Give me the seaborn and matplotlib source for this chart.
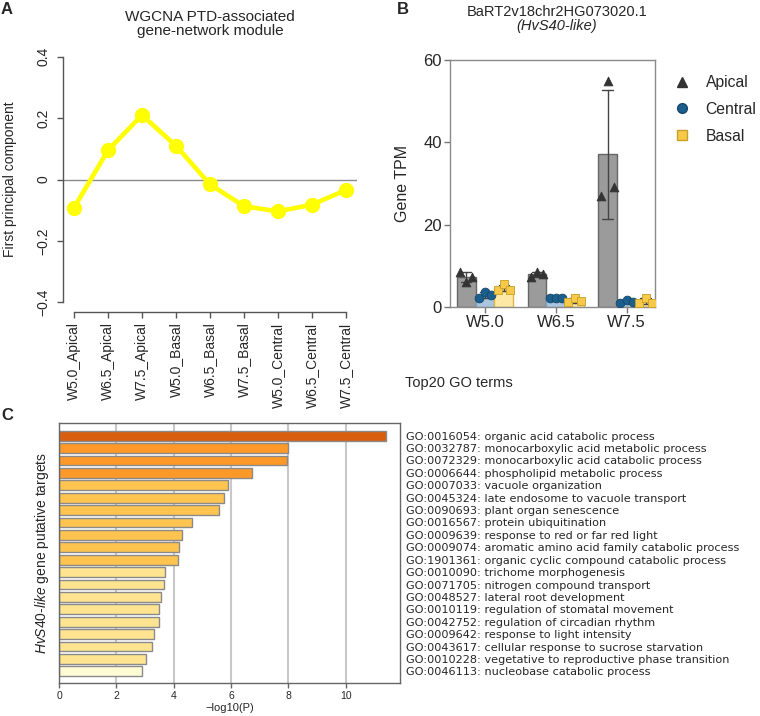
import matplotlib
matplotlib.use("Agg")
import matplotlib.pyplot as plt
import seaborn as sns
import pandas as pd
from matplotlib.lines import Line2D

# --- panel A: module eigengene per sample
samples = ["W5.0_Apical", "W6.5_Apical", "W7.5_Apical", "W5.0_Basal", "W6.5_Basal",
           "W7.5_Basal", "W5.0_Central", "W6.5_Central", "W7.5_Central"]
eigengene = [-0.093, 0.095, 0.21, 0.11, -0.016, -0.087, -0.104, -0.082, -0.034]

# --- panel B: TPM replicates (stage x 3 reps)
stages = ["W5.0", "W6.5", "W7.5"]
zones = ["Apical", "Central", "Basal"]
tpm_apical = [[8.5, 6.0, 7.2], [7.2, 8.6, 7.9], [27.0, 55.0, 29.2]]
tpm_central = [[2.2, 3.6, 3.0], [2.2, 2.3, 2.2], [1.0, 1.8, 1.2]]
tpm_basal = [[4.2, 5.5, 4.2], [1.2, 2.3, 1.4], [1.0, 2.2, 1.0]]

# --- panel C: top20 GO terms
go_terms = [
    "GO:0016054: organic acid catabolic process",
    "GO:0032787: monocarboxylic acid metabolic process",
    "GO:0072329: monocarboxylic acid catabolic process",
    "GO:0006644: phospholipid metabolic process",
    "GO:0007033: vacuole organization",
    "GO:0045324: late endosome to vacuole transport",
    "GO:0090693: plant organ senescence",
    "GO:0016567: protein ubiquitination",
    "GO:0009639: response to red or far red light",
    "GO:0009074: aromatic amino acid family catabolic process",
    "GO:1901361: organic cyclic compound catabolic process",
    "GO:0010090: trichome morphogenesis",
    "GO:0071705: nitrogen compound transport",
    "GO:0048527: lateral root development",
    "GO:0010119: regulation of stomatal movement",
    "GO:0042752: regulation of circadian rhythm",
    "GO:0009642: response to light intensity",
    "GO:0043617: cellular response to sucrose starvation",
    "GO:0010228: vegetative to reproductive phase transition",
    "GO:0046113: nucleobase catabolic process",
]
go_logp = [11.4, 8.0, 7.94, 6.75, 5.91, 5.75, 5.59, 4.65, 4.30, 4.20,
           4.14, 3.71, 3.68, 3.56, 3.49, 3.48, 3.33, 3.26, 3.02, 2.91]

# colours by p-value bin
go_colors = (["#d95f0e"] + ["#fe9929"] * 3 + ["#fec44f"] * 7
             + ["#fee391"] * 8 + ["#fffbd4"])

sns.set_style("white")
plt.rcParams['font.family'] = ['Liberation Sans', 'DejaVu Sans']
plt.rcParams['mathtext.fontset'] = 'custom'
plt.rcParams['mathtext.it'] = 'Liberation Sans:italic'
plt.rcParams['mathtext.rm'] = 'Liberation Sans'

W, H = 760, 716
fig = plt.figure(figsize=(W / 100, H / 100), dpi=100)


def box(l, t, r, b):
    return [l / W, 1 - b / H, (r - l) / W, (b - t) / H]


# ---------------- A
axA = fig.add_axes(box(63, 47, 357, 312))
axA.axhline(0, color="#8a8a8a", lw=1, zorder=0)
sns.pointplot(x=samples, y=eigengene, color="#ffff00", markers="o", errorbar=None,
              markersize=8.5, linewidth=3.3, ax=axA)
axA.set_xlim(-0.32, 8.32)
axA.set_ylim(-0.432, 0.432)
axA.set_yticks([-0.4, -0.2, 0, 0.2, 0.4])
axA.set_yticklabels(["\u22120.4", "\u22120.2", "0", "0.2", "0.4"])
for s in ["top", "right"]:
    axA.spines[s].set_visible(False)
axA.spines["left"].set_bounds(-0.4, 0.4)
axA.spines["bottom"].set_bounds(0, 8)
for s in ["left", "bottom"]:
    axA.spines[s].set_color("#555555")
    axA.spines[s].set_linewidth(1)
axA.tick_params(axis="x", labelrotation=90, length=4.5, width=1, color="#555555",
                pad=3, labelsize=10, bottom=True)
axA.tick_params(axis="y", labelrotation=90, length=4, width=1, color="#555555",
                pad=5, labelsize=10, left=True)
for lab in axA.get_yticklabels():
    lab.set_va("center")
axA.set_xlabel("")
axA.set_ylabel("First principal component", fontsize=10)
axA.yaxis.set_label_coords(-0.155, 0.5)
fig.text(210 / W, 1 - 17 / H, "WGCNA PTD-associated", ha="center", va="center", fontsize=11)
fig.text(210 / W, 1 - 31 / H, "gene-network module", ha="center", va="center", fontsize=11)

# ---------------- B
rows = []
for zone, reps in zip(zones, [tpm_apical, tpm_central, tpm_basal]):
    for stage, vals in zip(stages, reps):
        for i, v in enumerate(vals):
            rows.append((stage, zone, f"{zone}{i}", v))
tpm = pd.DataFrame(rows, columns=["stage", "zone", "slot", "tpm"])
slots = [f"{z}{i}" for z in zones for i in range(3)]

bar_pal = {"Apical": "#9b9b9b", "Central": "#a9c6de", "Basal": "#fde8a6"}
bar_edge = {"Apical": "#666666", "Central": "#7fa3c3", "Basal": "#dcb54e"}
pt_pal = {"Apical": "#333333", "Central": "#1d5f8c", "Basal": "#f7c948"}
pt_edge = {"Apical": "#333333", "Central": "#14476b", "Basal": "#c9a027"}
pt_mark = {"Apical": "^", "Central": "o", "Basal": "s"}
slot_pal = {s: pt_pal[s[:-1]] for s in slots}

axB = fig.add_axes(box(450, 60, 655, 307))
sns.barplot(data=tpm, x="stage", y="tpm", hue="zone", order=stages, hue_order=zones,
            palette=bar_pal, saturation=1, errorbar="sd", capsize=0.45, width=0.8,
            err_kws={"color": "#444444", "linewidth": 1}, linewidth=1,
            legend=False, ax=axB)
for cont, zone in zip(axB.containers, zones):
    for p in cont:
        p.set_edgecolor(bar_edge[zone])
for zone in zones:
    sns.stripplot(data=tpm[tpm["zone"] == zone], x="stage", y="tpm", hue="slot",
                  order=stages, hue_order=slots, dodge=True, jitter=False, palette=slot_pal,
                  marker=pt_mark[zone], size=6.3, edgecolor=pt_edge[zone], linewidth=0.6,
                  legend=False, ax=axB, zorder=4)
axB.set_ylim(0, 60)
axB.set_xlim(-0.495, 2.40)
axB.set_yticks([0, 20, 40, 60])
for s in axB.spines.values():
    s.set_color("#8a8a8a")
    s.set_linewidth(1)
axB.tick_params(axis="both", length=4, width=1, color="#777777", pad=2, labelsize=12,
                bottom=True, left=True)
axB.set_xlabel("")
axB.set_ylabel("Gene TPM", fontsize=11.5)
axB.yaxis.set_label_coords(-0.195, 0.5)
fig.text(557 / W, 1 - 12 / H, "BaRT2v18chr2HG073020.1", ha="center", va="center", fontsize=10.5)
fig.text(557 / W, 1 - 26 / H, "(HvS40-like)", ha="center", va="center", fontsize=10.5,
         style="italic")

handles = [Line2D([], [], ls="", marker=pt_mark[z], color=pt_pal[z], markeredgecolor=pt_edge[z],
                  markersize=7) for z in zones]
fig.legend(handles, zones, loc="upper left", bbox_to_anchor=(660 / W, 1 - 61 / H),
           frameon=False, fontsize=11.3, handlelength=1, handletextpad=1.0, labelspacing=0.75)

# ---------------- C
axC = fig.add_axes(box(59, 423, 400, 683))
sns.barplot(x=go_logp, y=go_terms, hue=go_terms, palette=go_colors, saturation=1,
            legend=False, orient="h", width=0.8, edgecolor="#8a8a8a", linewidth=1, ax=axC)
axC.set_xlim(0, 11.9)
axC.set_ylim(19.94, -1.02)
axC.set_xticks([0, 2, 4, 6, 8, 10])
axC.set_axisbelow(True)
axC.xaxis.grid(True, color="#c8c8c8", lw=1.5)
axC.yaxis.grid(False)
for s in axC.spines.values():
    s.set_color("#666666")
    s.set_linewidth(1)
axC.yaxis.tick_right()
axC.tick_params(axis="y", length=0, pad=4, labelsize=8.1)
for lab in axC.get_yticklabels():
    lab.set_family("DejaVu Sans")
axC.tick_params(axis="x", length=3.5, width=1, color="#666666", pad=2, labelsize=7.5,
                bottom=True)
axC.set_xlabel("\u2212log10(P)", fontsize=8, labelpad=2)
axC.set_ylabel(r"$\mathit{HvS40}$-$\mathit{like}$ gene putative targets", fontsize=10)
axC.yaxis.set_label_position("left")
axC.yaxis.set_label_coords(-0.023, 0.5)
fig.text(405 / W, 1 - 383 / H, "Top20 GO terms", ha="left", va="center", fontsize=10.5)

# panel letters
for x, y, t in [(7, 9, "A"), (403, 9, "B"), (7, 415, "C")]:
    fig.text(x / W, 1 - y / H, t, ha="center", va="center", fontsize=12, fontweight="bold")

fig.savefig("out.png", dpi=100)
